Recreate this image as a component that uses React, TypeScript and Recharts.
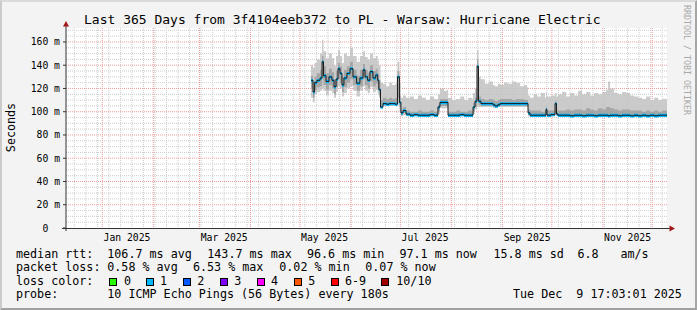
import React from 'react';
import { ComposedChart, Area, Line, XAxis, YAxis, CartesianGrid } from 'recharts';

// time axis in days from the left edge of the graph (365 days shown)
const days = [
  148.8, 150.0, 151.0, 152.4, 154.3, 155.5, 156.4, 157.9, 159.7, 161.5, 162.8, 164.0, 165.2, 166.4, 167.6, 168.8,
  170.6, 172.5, 174.3, 176.5, 178.5, 180.4, 181.6, 183.2, 184.6, 186.4, 188.1, 189.3, 190.0, 191.0,
  192.5, 194.5, 196.3, 198.1, 199.9, 201.3, 202.5, 203.4, 204.7, 206.5,
  208.9, 211.3, 213.7, 216.2, 218.6, 221.0, 223.5, 225.9, 227.1, 229.5, 231.4, 232.0, 234.5, 237.0, 239.4, 241.8,
  244.2, 246.6, 247.2, 248.4, 249.6, 250.5, 252.0, 254.4, 256.8, 259.3, 260.5, 262.3, 263.6, 266.0, 268.5, 270.9,
  273.3, 275.8, 278.2, 280.0, 280.6, 281.8, 284.0, 286.2, 288.5, 290.9, 291.5, 292.1, 294.5, 297.0, 297.9, 298.8,
  301.3, 303.7, 306.1, 308.6, 311.0, 313.4, 315.9, 318.3, 320.7, 323.1, 325.6, 328.0, 329.2, 330.4, 332.9, 335.3,
  337.7, 340.2, 342.6, 345.0, 347.4, 349.9, 352.3, 354.7, 357.2, 359.6, 362.0, 365.0,
];

// median rtt (ms)
const median = [
  127, 117, 125, 127, 129, 143, 131, 126, 130, 127, 121.5, 128, 137, 133, 123, 129,
  133, 137, 130, 124.5, 129, 136, 130, 127, 134.5, 129, 131.6, 127, 119, 104,
  107, 106.5, 107, 107, 106.5, 130, 108, 99, 101, 98,
  97, 97.5, 97, 97, 97, 97.5, 97, 104, 108, 108, 108, 97, 97, 97, 97.5, 97,
  97, 97, 104, 109, 139, 109, 107, 107, 107, 106, 105, 106, 107, 107, 107, 107,
  107, 107, 107, 107, 99, 97, 97, 97, 97, 97, 102, 97, 97.5, 107, 98, 97,
  97, 97, 96.5, 97, 97, 96.5, 97, 97, 96.5, 97, 97, 97, 96.5, 97, 97, 96.5,
  97, 97, 96.5, 97, 96.5, 97, 96.5, 97, 96.5, 97, 97, 97.1,
];

// smoke: lowest and highest ping
const smokeLo = [
  112, 108, 115, 117, 118, 120, 118, 114, 118, 116, 112, 117, 122, 120, 113, 116,
  120, 122, 118, 113, 118, 122, 118, 116, 121, 117, 119, 116, 112, 103,
  105, 105, 105, 105, 105, 106, 100, 96, 97, 96,
  96, 96, 96, 96, 96, 96, 96, 98, 103, 103, 103, 96, 96, 96, 96, 96,
  96, 96, 98, 102, 104, 104, 104, 104, 104, 103, 103, 104, 104, 104, 104, 104,
  104, 104, 104, 104, 96, 96, 96, 96, 96, 96, 97, 96, 96, 98, 96, 96,
  96, 96, 96, 96, 96, 96, 96, 96, 96, 96, 96, 96, 96, 96, 96, 96,
  96, 96, 96, 96, 96, 96, 96, 96, 96, 96, 96, 96,
];
const smokeHi = [
  140, 138, 142, 145, 150, 162, 152, 146, 150, 146, 140, 148, 153, 148, 142, 150,
  148, 155, 148, 143, 148, 152, 147, 145, 150, 146, 148, 144, 140, 125,
  124, 122, 125, 123, 124, 143, 125, 112, 114, 112,
  113, 111, 114, 112, 110, 113, 111, 115, 120, 118, 119, 112, 110, 111, 113, 110,
  112, 111, 116, 120, 153, 130, 128, 124, 126, 123, 122, 124, 123, 125, 124, 126,
  125, 122, 123, 121, 114, 112, 115, 113, 116, 112, 117, 113, 114, 116, 113, 115,
  117, 113, 116, 114, 118, 115, 117, 114, 116, 115, 117, 119, 126, 120, 116, 115,
  117, 116, 114, 113, 112, 111, 113, 110, 112, 110, 111, 110,
];

// darker core of the smoke, around the median
const coreLo = [
  120, 112, 119, 121, 122, 128, 123, 119, 123, 120, 115, 121, 128, 125, 117, 121,
  125, 128, 123, 118, 122, 128, 123, 120, 126, 122, 124, 120, 114, 104,
  106, 106, 106, 106, 106, 112, 104, 97, 99, 97,
  96.5, 96.5, 96.5, 96.5, 96.5, 96.5, 96.5, 100, 105, 105, 105, 96.5, 96.5, 96.5, 96.5, 96.5,
  96.5, 96.5, 100, 104, 110, 106, 105, 105, 105, 104, 104, 105, 105, 105, 105, 105,
  105, 105, 105, 105, 97, 96.5, 96.5, 96.5, 96.5, 96.5, 98, 96.5, 96.5, 100, 96.5, 96.5,
  96.5, 96.5, 96, 96.5, 96.5, 96, 96.5, 96.5, 96, 96.5, 96.5, 96.5, 96, 96.5, 96.5, 96,
  96.5, 96.5, 96, 96.5, 96, 96.5, 96, 96.5, 96, 96.5, 96.5, 96.5,
];
const coreHi = [
  131, 126, 130, 133, 136, 148, 139, 133, 137, 134, 128, 135, 142, 139, 130, 136,
  139, 143, 136, 131, 136, 141, 136, 133, 140, 135, 137, 133, 127, 110,
  112, 111, 112, 111, 112, 135, 114, 102, 104, 101,
  100, 100, 101, 100, 100, 101, 100, 106, 111, 111, 111, 100, 100, 101, 100, 100,
  101, 100, 108, 112, 145, 113, 111, 110, 111, 110, 109, 110, 111, 111, 111, 110,
  111, 111, 110, 110, 102, 101, 101, 101, 100, 101, 104, 101, 101, 109, 101, 101,
  101, 102, 101, 102, 102, 101, 103, 102, 101, 103, 102, 104, 104, 103, 102, 101,
  102, 102, 101, 101, 101, 100, 101, 100, 101, 100, 101, 100,
];

const yTicks = [0, 20, 40, 60, 80, 100, 120, 140, 160];
const xLabels = ['Jan 2025', 'Mar 2025', 'May 2025', 'Jul 2025', 'Sep 2025', 'Nov 2025'];
const xLabelMonths = [0, 2, 4, 6, 8, 10];

const lossColors = [
  { label: '0', color: '#26ff00' },
  { label: '1', color: '#00b8ff' },
  { label: '2', color: '#0059ff' },
  { label: '3', color: '#7e00ff' },
  { label: '4', color: '#ff00ff' },
  { label: '5', color: '#ff5500' },
  { label: '6-9', color: '#ff0000' },
  { label: '10/10', color: '#a10000' },
];

const X_MAX = 365;
const Y_MAX = 172;
const origin = Date.UTC(2024, 11, 9, 22, 48);
const DAY = 86400000;
const toDay = (t: number) => (t - origin) / DAY;

const monthLines = Array.from({ length: 12 }, (_, m) => toDay(Date.UTC(2025, m, 1)));
const weekLines: number[] = [];
for (let t = Date.UTC(2024, 11, 15); toDay(t) < X_MAX; t += 7 * DAY) weekLines.push(toDay(t));
const labelDays = xLabelMonths.map((m) => toDay(Date.UTC(2025, m, 16)));
const minorY = Array.from({ length: 35 }, (_, i) => i * 5).filter((v) => v % 20 !== 0 && v < Y_MAX);
const majorY = yTicks.slice(1);

const data = days.map((d, i) => ({
  day: d,
  smoke: [smokeLo[i], smokeHi[i]],
  core: [coreLo[i], coreHi[i]],
  band: [median[i] - 1.5, median[i] + 1.2],
  median: median[i],
}));

// grid positions go through the axis scale when it is handed over
const xGen = (vals: number[]) => ({ xAxis, offset }: any) =>
  vals.map((d) =>
    xAxis && typeof xAxis.scale === 'function' ? xAxis.scale(d) : offset.left + (d / X_MAX) * offset.width
  );
const yGen = (vals: number[]) => ({ yAxis, offset }: any) =>
  vals.map((v) =>
    yAxis && typeof yAxis.scale === 'function' ? yAxis.scale(v) : offset.top + offset.height - (v / Y_MAX) * offset.height
  );

const FONT = '"DejaVu Sans Mono", monospace';

const Txt = ({ x, y, size = 11.7, children, color = '#000' }: any) => (
  <div style={{ position: 'absolute', left: x, top: y, fontFamily: FONT, fontSize: size, lineHeight: `${size}px`, whiteSpace: 'pre', color }}>
    {children}
  </div>
);

const YTick = ({ y, payload }: any) => (
  <text x={payload.value === 0 ? 48.3 : 60} y={y + 3.5} textAnchor="end" fontFamily={FONT} fontSize={9.75} fill="#000">
    {payload.value === 0 ? '0' : `${payload.value} m`}
  </text>
);

const XTick = ({ x, payload }: any) => {
  const idx = labelDays.indexOf(payload.value);
  return (
    <text x={x} y={241} textAnchor="middle" fontFamily={FONT} fontSize={9.75} fill="#000">
      {xLabels[idx]}
    </text>
  );
};

export default function App() {
  const row1 = 248.6, row2 = 261.8, row3 = 275.8, row4 = 289.4;
  const boxX = [108.5, 145.5, 182.5, 219.5, 256.5, 293.5, 330.5, 381];
  const labX = [124, 160, 197.3, 234.3, 271, 308.3, 345, 396.3];
  return (
    <div style={{ position: 'absolute', left: 0, top: 0, width: 697, height: 310, boxSizing: 'border-box', background: '#f3f3f3', borderStyle: 'solid', borderWidth: 2, borderColor: '#dadada #a6a6a6 #a0a0a0 #cbcbcb', overflow: 'hidden' }}>
      <div style={{ position: 'absolute', left: -2, top: -2 }}>
        <ComposedChart width={697} height={310} data={data} margin={{ top: 28, right: 30, left: 36, bottom: 62 }}>
          <CartesianGrid
            fill="#fff"
            stroke="#cccccc"
            strokeDasharray="1 1"
            verticalCoordinatesGenerator={xGen(weekLines)}
            horizontalCoordinatesGenerator={yGen(minorY)}
          />
          <CartesianGrid
            stroke="#f09a9a"
            strokeDasharray="1 1"
            verticalCoordinatesGenerator={xGen(monthLines)}
            horizontalCoordinatesGenerator={yGen(majorY)}
          />
          <XAxis dataKey="day" type="number" domain={[0, X_MAX]} ticks={labelDays} tick={<XTick />} axisLine={false} tickLine={false} height={20} allowDataOverflow />
          <YAxis type="number" domain={[0, Y_MAX]} ticks={yTicks} tick={<YTick />} axisLine={false} tickLine={{ stroke: '#333' }} tickSize={3} width={30} allowDataOverflow />
          <Area dataKey="smoke" type="stepAfter" fill="#c4c4c4" fillOpacity={0.88} stroke="none" isAnimationActive={false} />
          <Area dataKey="core" type="stepAfter" fill="#a2a2a2" fillOpacity={0.9} stroke="none" isAnimationActive={false} />
          <Line dataKey="median" type="stepAfter" stroke="#1a1a1a" strokeWidth={1} dot={false} isAnimationActive={false} />
          <Area dataKey="band" type="stepAfter" fill="#00b8ff" fillOpacity={1} stroke="none" isAnimationActive={false} />
        </ComposedChart>
        <svg width={697} height={310} style={{ position: 'absolute', left: 0, top: 0, pointerEvents: 'none' }}>
          <line x1={66} y1={24} x2={66} y2={231} stroke="#333" strokeWidth={1} />
          <line x1={62} y1={228.5} x2={671} y2={228.5} stroke="#333" strokeWidth={1} />
          <polygon points="66,21 63,26.5 69,26.5" fill="#a01818" />
          <polygon points="675,228.5 669.5,225.5 669.5,231.5" fill="#a01818" />
          <text transform="translate(11,127.5) rotate(-90)" textAnchor="middle" dominantBaseline="central" fontFamily={FONT} fontSize={11.7} fill="#000">Seconds</text>
          <text transform="translate(687,60) rotate(90)" textAnchor="middle" dominantBaseline="central" fontFamily={FONT} fontSize={8.3} fill="#a8a8a8">RRDTOOL / TOBI OETIKER</text>
        </svg>
        <Txt x={84} y={13} size={13}>Last 365 Days from 3f4104eeb372 to PL - Warsaw: Hurricane Electric</Txt>
        <Txt x={16} y={row1}>median rtt:</Txt>
        <Txt x={107.3} y={row1}>106.7 ms avg</Txt>
        <Txt x={207.3} y={row1}>143.7 ms max</Txt>
        <Txt x={307} y={row1}>96.6 ms min</Txt>
        <Txt x={399.5} y={row1}>97.1 ms now</Txt>
        <Txt x={493.5} y={row1}>15.8 ms sd</Txt>
        <Txt x={577.5} y={row1}>6.8</Txt>
        <Txt x={620.5} y={row1}>am/s</Txt>
        <Txt x={16} y={row2}>packet loss:</Txt>
        <Txt x={107.3} y={row2}>0.58 % avg</Txt>
        <Txt x={193} y={row2}>6.53 % max</Txt>
        <Txt x={279.3} y={row2}>0.02 % min</Txt>
        <Txt x={365.3} y={row2}>0.07 % now</Txt>
        <Txt x={16} y={row3}>loss color:</Txt>
        {lossColors.map((c, i) => (
          <React.Fragment key={c.label}>
            <div style={{ position: 'absolute', left: boxX[i], top: 278, width: 8, height: 8, boxSizing: 'border-box', border: '1px solid #000', background: c.color }} />
            <Txt x={labX[i]} y={row3}>{c.label}</Txt>
          </React.Fragment>
        ))}
        <Txt x={16} y={row4}>probe:</Txt>
        <Txt x={107.3} y={row4}>10 ICMP Echo Pings (56 Bytes) every 180s</Txt>
        <Txt x={513} y={row4}>Tue Dec  9 17:03:01 2025</Txt>
      </div>
    </div>
  );
}
